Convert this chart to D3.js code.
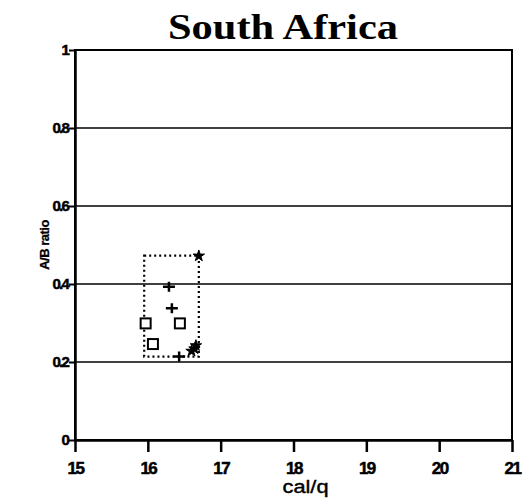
<!DOCTYPE html>
<html><head><meta charset="utf-8">
<script src="https://cdn.jsdelivr.net/npm/d3@7"></script>
<style>body{margin:0;background:#fff}svg{display:block}</style>
</head><body>
<script>
const xTicks = [15,16,17,18,19,20,21];
const yTicks = [0,0.2,0.4,0.6,0.8,1];
const yTickLabels = ["0","0.2","0.4","0.6","0.8","1"];
const squares = [[15.97,0.299],[16.44,0.299],[16.07,0.246]];
const pluses = [[16.29,0.393],[16.33,0.338],[16.43,0.214]];
const stars = [[16.70,0.472],[16.60,0.228],[16.66,0.242],[16.64,0.234]];
const rangeBox = {x0:15.95, x1:16.70, y0:0.214, y1:0.473};

const W=523,H=498;
const svg=d3.select("body").append("svg").attr("width",W).attr("height",H);
const x=d3.scaleLinear().domain([15,21]).range([75,512]);
const y=d3.scaleLinear().domain([0,1]).range([440,50]);

// title
svg.append("text").attr("x",283).attr("y",39).attr("text-anchor","middle")
 .attr("font-family","Liberation Serif, serif").attr("font-weight","bold").attr("font-size",35)
 .attr("textLength",230).attr("lengthAdjust","spacingAndGlyphs").text("South Africa");

// gridlines
svg.append("g").selectAll("line").data(yTicks.filter(d=>d>0&&d<1)).join("line")
 .attr("x1",x(15)).attr("x2",x(21)).attr("y1",d=>y(d)).attr("y2",d=>y(d))
 .attr("stroke","#000").attr("stroke-width",1.6);

// frame
svg.append("rect").attr("x",x(15)).attr("y",y(1)).attr("width",x(21)-x(15)).attr("height",y(0)-y(1))
 .attr("fill","none").attr("stroke","#000").attr("stroke-width",2);

// x axis
const xa=svg.append("g").attr("transform",`translate(0,${y(0)})`)
 .call(d3.axisBottom(x).tickValues(xTicks).tickFormat(d3.format("d")).tickSize(12).tickSizeOuter(0));
xa.select(".domain").attr("stroke-width",2.5);
xa.selectAll(".tick line").attr("stroke-width",2.5);
xa.selectAll("text").attr("font-family","Liberation Sans, Arial, sans-serif").attr("font-weight","bold")
 .attr("font-size",17).attr("y",22).attr("dy","0.71em").attr("letter-spacing",-1.5)
 .attr("stroke","#000").attr("stroke-width",0.5);

// y axis
const ya=svg.append("g").attr("transform",`translate(${x(15)},0)`)
 .call(d3.axisLeft(y).tickValues(yTicks).tickFormat((d,i)=>yTickLabels[i]).tickSize(6).tickSizeOuter(0));
ya.select(".domain").attr("stroke-width",2.5);
ya.selectAll(".tick line").attr("stroke-width",2);
ya.selectAll("text").attr("font-family","Liberation Sans, Arial, sans-serif").attr("font-weight","bold")
 .attr("font-size",15).attr("letter-spacing",-1.8).attr("x",-7)
 .attr("stroke","#000").attr("stroke-width",0.5);

// axis titles
svg.append("text").attr("x",x(18)+12).attr("y",493).attr("text-anchor","middle")
 .attr("font-family","Liberation Sans, Arial, sans-serif").attr("font-size",18)
 .attr("textLength",46).attr("lengthAdjust","spacingAndGlyphs")
 .attr("stroke","#000").attr("stroke-width",0.4).text("cal/q");
svg.append("text").attr("transform",`translate(49,${y(0.5)}) rotate(-90)`).attr("text-anchor","middle")
 .attr("font-family","Liberation Sans, Arial, sans-serif").attr("font-weight","bold").attr("font-size",13)
 .attr("letter-spacing",-0.5).attr("stroke","#000").attr("stroke-width",0.3).text("A/B ratio");

// dotted range box
svg.append("rect").attr("x",x(rangeBox.x0)).attr("y",y(rangeBox.y1))
 .attr("width",x(rangeBox.x1)-x(rangeBox.x0)).attr("height",y(rangeBox.y0)-y(rangeBox.y1))
 .attr("fill","none").attr("stroke","#000").attr("stroke-width",2.2).attr("stroke-dasharray","2,3");

// squares
svg.append("g").selectAll("rect").data(squares).join("rect")
 .attr("x",d=>x(d[0])-5).attr("y",d=>y(d[1])-5).attr("width",10).attr("height",10)
 .attr("fill","#fff").attr("stroke","#000").attr("stroke-width",2);
// pluses
svg.append("g").selectAll("path").data(pluses).join("path")
 .attr("d",d=>`M${x(d[0])-6},${y(d[1])}h12M${x(d[0])},${y(d[1])-5}v10`)
 .attr("stroke","#000").attr("stroke-width",2.5);
// stars
svg.append("g").selectAll("path").data(stars).join("path")
 .attr("transform",d=>`translate(${x(d[0])},${y(d[1])})`)
 .attr("d",d3.symbol(d3.symbolStar,40)).attr("fill","#000").attr("stroke","#000").attr("stroke-width",1);
</script>
</body></html>
